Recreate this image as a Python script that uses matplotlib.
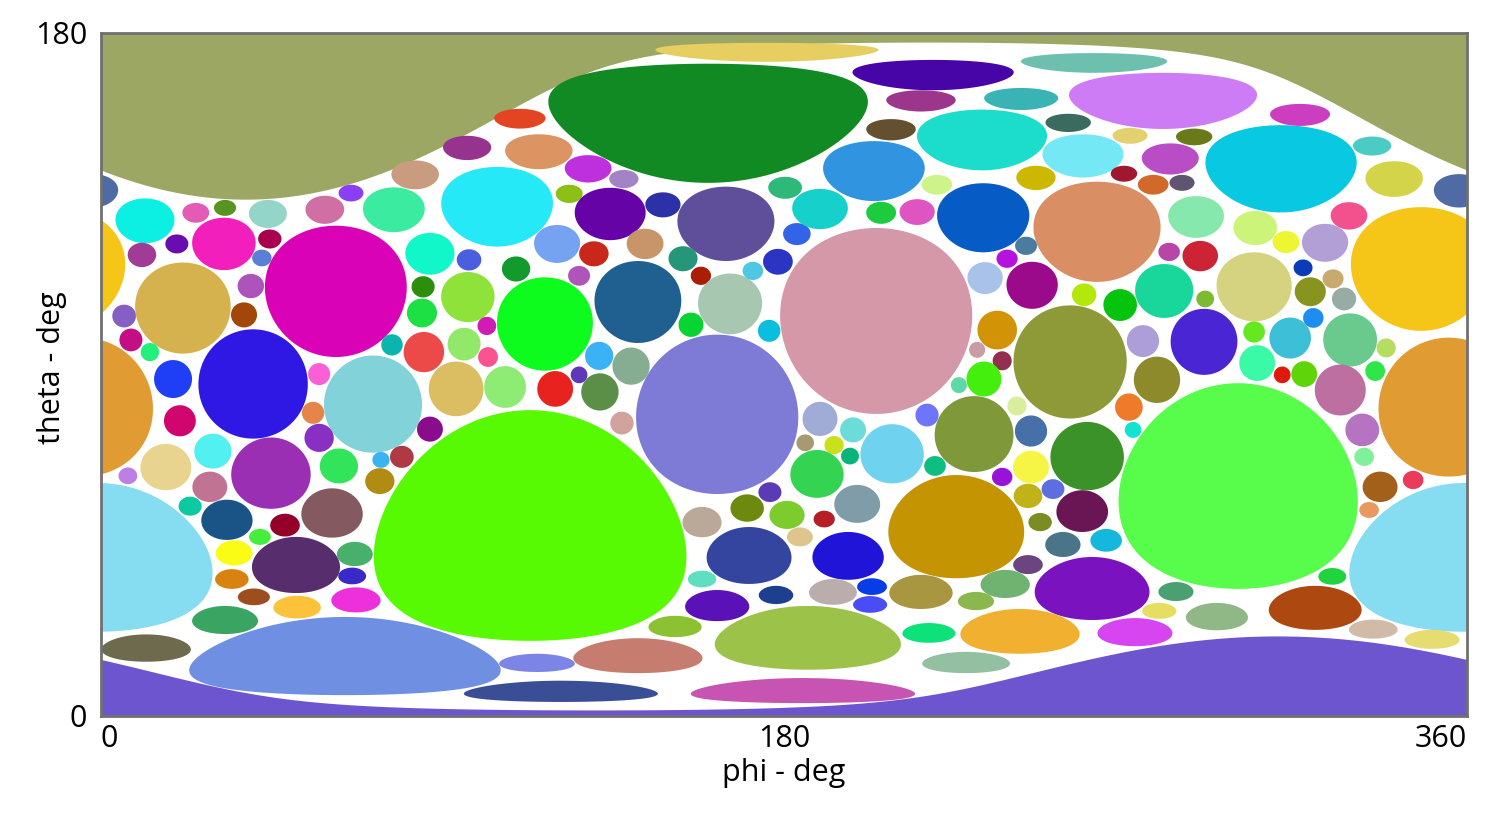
import matplotlib
matplotlib.use("Agg")

import matplotlib.pyplot as plt
import numpy as np

# spherical caps, phi/theta of centre and angular radius, all in degrees
phi_c = [
    357.9, 11.6, 25.0, 32.7, 44.0, 59.0, 65.9, 82.8, 77.2, 347.9,
    10.8, 20.0, 32.4, 44.5, 42.4, 61.9, 86.7, 104.4, 175.5, 160.0,
    110.4, 96.5, 115.4, 128.4, 137.8, 123.4, 134.2, 148.1, 164.7, 180.3,
    120.2, 129.9, 143.4, 153.4, 183.4, 178.4, 109.4, 97.0, 219.3, 261.7,
    216.1, 242.5, 279.9, 208.2, 232.2, 254.9, 271.2, 203.7, 258.8, 246.4,
    269.6, 220.3, 189.5, 205.6, 215.1, 232.5, 262.5, 243.8, 238.8, 204.3,
    316.0, 288.1, 281.8, 311.0, 335.0, 340.8, 277.3, 284.9, 288.6, 328.9,
    304.2, 312.3, 322.6, 281.5, 289.7, 303.9, 316.8, 21.6, 6.1, 7.9,
    12.9, 39.5, 37.7, 355.2, 19.0, 40.1, 20.8, 57.5, 71.7, 55.9,
    57.5, 29.5, 17.1, 44.8, 7.1, 28.7, 62.7, 73.8, 79.3, 73.5,
    86.7, 85.1, 76.7, 84.6, 84.9, 93.6, 96.7, 117.0, 101.7, 95.7,
    102.0, 106.5, 119.7, 126.0, 131.3, 139.7, 131.5, 141.5, 126.0, 158.1,
    155.5, 165.8, 171.8, 176.1, 137.3, 162.4, 113.1, 176.3, 233.0, 245.4,
    259.1, 268.6, 236.2, 230.9, 237.5, 255.4, 232.7, 226.1, 217.7, 241.4,
    230.1, 245.1, 259.9, 270.9, 272.0, 189.5, 198.2, 185.6, 193.2, 197.4,
    208.5, 188.7, 219.8, 245.1, 237.5, 299.7, 280.2, 291.0, 318.7, 324.7,
    327.6, 319.5, 274.6, 290.7, 303.9, 313.4, 329.2, 338.7, 304.7, 311.3,
    317.1, 278.3, 326.6, 335.8, 332.4, 332.9, 337.1, 345.8, 359.2, 23.5,
    33.2, 48.5, 60.9, 41.9, 35.1, 51.4, 66.9, 34.5, 66.2, 40.3,
    67.2, 51.7, 32.7, 11.9, 64.3, 158.4, 170.3, 180.8, 170.8, 158.4,
    162.4, 177.9, 151.3, 186.3, 141.5, 114.9, 121.2, 185.0, 196.9, 199.3,
    190.6, 184.2, 225.4, 244.3, 250.9, 258.6, 247.5, 253.5, 264.9, 244.3,
    261.2, 192.9, 203.2, 202.7, 216.1, 238.3, 230.6, 218.2, 242.2, 228.0,
    272.5, 283.3, 278.9, 294.1, 324.5, 320.0, 335.3, 350.8, 334.2,
]
theta_c = [
    138.4, 130.5, 132.6, 133.9, 132.3, 133.4, 137.8, 142.6, 133.4, 117.8,
    121.5, 124.4, 124.4, 125.7, 120.7, 111.9, 121.8, 134.2, 174.9, 156.2,
    157.4, 149.7, 148.7, 144.2, 141.5, 137.6, 132.3, 134.7, 129.7, 139.2,
    124.4, 121.8, 124.4, 120.5, 127.0, 119.7, 117.8, 120.2, 168.9, 172.1,
    162.1, 162.6, 162.1, 154.5, 151.8, 156.3, 152.9, 143.6, 147.6, 141.8,
    142.9, 140.0, 133.6, 132.6, 132.8, 131.3, 127.6, 123.9, 120.5, 104.1,
    158.4, 152.6, 146.8, 144.2, 150.2, 141.5, 140.0, 140.5, 131.5, 131.8,
    128.6, 124.9, 124.7, 122.3, 121.2, 113.1, 118.1, 107.5, 105.4, 99.1,
    95.9, 113.3, 105.7, 81.4, 88.8, 87.5, 77.8, 90.1, 82.2, 79.9,
    73.3, 69.8, 65.6, 64.0, 63.3, 60.4, 65.9, 67.5, 68.3, 61.9,
    75.6, 95.9, 97.8, 106.2, 113.1, 86.2, 110.4, 103.3, 102.8, 98.0,
    94.6, 86.7, 86.2, 89.9, 94.9, 92.2, 85.4, 109.1, 116.0, 116.0,
    103.1, 108.6, 117.3, 101.5, 77.2, 79.5, 50.2, 59.0, 115.4, 113.5,
    111.0, 108.3, 101.7, 96.5, 93.6, 93.3, 88.8, 87.2, 79.3, 81.7,
    74.3, 75.1, 68.5, 81.4, 75.4, 78.3, 75.4, 72.0, 71.4, 68.5,
    69.1, 63.8, 65.9, 65.6, 63.0, 60.6, 112.0, 109.9, 111.8, 115.2,
    109.9, 104.9, 98.8, 98.6, 101.2, 99.6, 99.1, 97.0, 93.0, 89.9,
    90.1, 88.6, 85.9, 90.9, 75.4, 68.3, 60.4, 62.2, 41.8, 55.3,
    51.7, 50.3, 53.5, 47.2, 43.0, 39.8, 42.7, 36.1, 36.9, 31.4,
    30.6, 28.7, 25.3, 17.9, 15.8, 51.1, 54.8, 53.0, 42.3, 36.1,
    29.1, 31.9, 23.6, 20.6, 15.9, 14.0, 6.5, 6.7, 42.2, 55.9,
    51.9, 47.2, 49.9, 58.0, 59.8, 54.0, 51.1, 45.2, 46.3, 39.9,
    33.6, 32.7, 34.1, 29.4, 32.7, 34.8, 30.3, 21.9, 22.3, 14.1,
    22.1, 32.8, 27.7, 26.2, 36.8, 28.5, 22.9, 20.2, 54.3,
]
radius_c = [
    4.4, 5.9, 2.6, 2.1, 3.7, 3.7, 2.2, 3.8, 5.9, 16.3,
    3.2, 2.5, 6.9, 2.5, 2.2, 17.3, 5.5, 10.5, 2.5, 15.7,
    2.6, 3.2, 4.6, 3.6, 2.4, 2.4, 6.9, 3.3, 9.8, 2.9,
    5.0, 3.3, 4.0, 3.3, 2.9, 3.4, 3.3, 2.8, 4.0, 2.6,
    2.8, 2.9, 7.4, 2.8, 8.0, 2.4, 2.1, 7.9, 5.7, 3.2,
    2.1, 2.6, 5.3, 2.9, 3.4, 9.1, 13.2, 2.4, 2.4, 24.5,
    2.9, 2.2, 4.1, 11.5, 2.5, 4.7, 2.6, 2.1, 5.5, 3.6,
    4.5, 2.9, 5.0, 2.4, 4.0, 9.1, 2.2, 12.0, 3.0, 3.0,
    2.4, 3.2, 3.3, 18.3, 5.0, 14.4, 4.1, 2.9, 12.8, 2.9,
    3.7, 4.6, 6.1, 9.4, 2.2, 4.0, 4.6, 2.1, 2.9, 3.4,
    3.3, 5.3, 2.8, 3.8, 2.8, 7.2, 6.6, 12.3, 2.4, 4.3,
    2.6, 5.5, 4.7, 2.2, 3.7, 4.9, 4.9, 10.8, 2.6, 2.4,
    3.2, 8.0, 2.4, 2.9, 3.0, 21.0, 30.4, 2.6, 4.2, 6.2,
    3.0, 4.2, 5.1, 2.1, 2.5, 14.9, 4.6, 2.1, 3.0, 2.5,
    10.0, 4.1, 9.0, 3.6, 2.1, 4.5, 3.3, 2.2, 2.4, 2.2,
    7.8, 6.3, 2.6, 4.3, 2.4, 27.1, 7.1, 2.2, 3.8, 2.5,
    3.0, 2.6, 4.2, 8.7, 2.8, 5.4, 7.0, 2.5, 4.7, 2.2,
    3.4, 6.1, 6.7, 2.6, 4.3, 2.4, 4.0, 2.4, 19.6, 2.5,
    5.3, 3.0, 6.5, 2.1, 3.3, 7.4, 3.2, 2.6, 2.2, 2.2,
    3.3, 3.0, 3.7, 3.6, 10.3, 4.0, 3.6, 3.7, 7.5, 2.2,
    4.1, 2.4, 2.8, 8.4, 4.6, 2.4, 2.8, 3.3, 6.3, 5.0,
    2.2, 2.5, 13.6, 3.2, 2.6, 5.5, 2.4, 3.3, 3.0, 2.5,
    8.3, 3.4, 2.2, 2.2, 4.5, 3.7, 2.4, 2.6, 5.9, 2.8,
    3.7, 2.5, 2.1, 3.6, 2.2, 5.8, 2.5, 2.5, 2.1,
]
colors_c = [
    "#4f6ba5", "#0cefe3", "#e35bb5", "#5a9420", "#94d5c9", "#cf6fa3", "#8a3ff5", "#c99c80", "#3beba0", "#f5c518",
    "#a03c96", "#6a0db0", "#f21fbd", "#a8004f", "#5b7fd6", "#d902b6", "#12f7c9", "#26e9f7", "#e6cf60", "#128a24",
    "#e34522", "#96338f", "#db9462", "#be2fdd", "#a283c6", "#8cc016", "#6503a6", "#2c31a8", "#5f4f9a", "#2eb87a",
    "#76a2f2", "#c9271a", "#c8956a", "#25967a", "#3264e8", "#2a35c4", "#139a2d", "#4a5fe0", "#4705a8", "#6ec0ae",
    "#9c358c", "#3ab3b5", "#cd7cf5", "#645030", "#1cdccb", "#3a6b5e", "#e3d070", "#3094e0", "#74e8f5", "#cdb800",
    "#a01830", "#cdf48a", "#16d0cc", "#1dcc3e", "#de55c2", "#065bc4", "#d98e63", "#4a7ba0", "#b512e0", "#d498a9",
    "#cc3dc0", "#6a7a18", "#b84dc6", "#08c8e2", "#4bcbc3", "#d4d44a", "#d2692a", "#5f5471", "#86e8ad", "#f3508e",
    "#ccf478", "#eef533", "#b29fd6", "#b845a8", "#cc2335", "#d5d380", "#0b3bb8", "#d6b24e", "#855fc4", "#c40e84",
    "#22f07b", "#af53bc", "#a2460a", "#e09c33", "#1f3ff7", "#2f18e3", "#d0066e", "#fb5fd6", "#82d3d9", "#e5854a",
    "#8a2fc4", "#52f0f0", "#e8d48e", "#9a2fb3", "#bc7fe6", "#c17393", "#32e45a", "#3ab4f0", "#b03a44", "#b08c12",
    "#8b0c8a", "#ec4a48", "#0ab5b0", "#1ce044", "#2c8e0c", "#dcbe62", "#8ee23a", "#0efb1e", "#d01cb4", "#92e868",
    "#fb5291", "#8eeb74", "#e8231f", "#5d38b8", "#3bb2f5", "#86ad92", "#5b8e46", "#1f6090", "#b055b8", "#a81e06",
    "#07d432", "#a8c7b1", "#4ec8e2", "#0abee0", "#d0a39c", "#7e7bd6", "#58fa03", "#5a3ab5", "#a8c2ea", "#9a0a8a",
    "#b3e80a", "#06c40e", "#d29306", "#c99da5", "#93304f", "#8e9a38", "#44ef0e", "#5ed8a4", "#6e75fa", "#d8ee9a",
    "#7e983a", "#4870a8", "#3a9228", "#ee7a2a", "#10e3cf", "#a0acd6", "#6cdcd8", "#a79a72", "#c9e01c", "#0bb57a",
    "#6fd3ef", "#34d452", "#0dbd82", "#f6f545", "#9a12d8", "#58fc4a", "#19d69a", "#7cba32", "#889320", "#c9aa6e",
    "#97aca4", "#1d8ef0", "#ad9dd8", "#4a25d4", "#66e820", "#3ebfd8", "#6ac98d", "#b5dd60", "#3afaa8", "#e01a0a",
    "#5fd40a", "#8c8a2a", "#bd6fa2", "#2ee54a", "#b573c2", "#80f19a", "#a3601a", "#ec3a5a", "#86dcf0", "#0bc9a0",
    "#1a5487", "#95002a", "#845a60", "#45ee3a", "#fbfc16", "#572d6e", "#48b06a", "#d88210", "#3a28c8", "#9c4e1e",
    "#ee2fdc", "#fbc23a", "#3aa562", "#6e6a4e", "#6f8fe2", "#baa899", "#6e8a0e", "#7ccc2e", "#33459e", "#5ee0c0",
    "#5a12b8", "#1e3e8e", "#8cc232", "#9cc24a", "#c67c6e", "#7c84e6", "#3a4e96", "#c754b2", "#2014d8", "#7f9ca8",
    "#b51e24", "#e0c48e", "#c49402", "#c2b21a", "#5c6ee0", "#6a1554", "#7a8c22", "#4a7588", "#14b8dc", "#6c4480",
    "#7a12c0", "#b9aeac", "#083ce6", "#4a4cf5", "#a89640", "#70b270", "#8ab84e", "#0de27a", "#f2b030", "#92c0a0",
    "#d645f0", "#4aa070", "#e6de60", "#90b886", "#1fd43e", "#ac4810", "#d2baa8", "#e6dc70", "#e89a5e",
]

# the two caps that cover a pole
pole_phi = [38.0, 310.0]
pole_theta = [159.3, 9.75]
pole_radius = [23.1, 11.35]
pole_colors = ["#9ca764", "#6e55d0"]

assert len(phi_c) == len(theta_c) == len(radius_c) == len(colors_c)


def cap_outline(phi0, th0, r, n=240):
    p0, t0, rr = np.radians([phi0, th0, r])
    c = np.array([np.sin(t0) * np.cos(p0), np.sin(t0) * np.sin(p0), np.cos(t0)])
    e1 = np.array([np.cos(t0) * np.cos(p0), np.cos(t0) * np.sin(p0), -np.sin(t0)])
    e2 = np.array([-np.sin(p0), np.cos(p0), 0.0])
    t = np.linspace(0, 2 * np.pi, n)
    pts = np.cos(rr) * c[:, None] + np.sin(rr) * (np.cos(t) * e1[:, None] + np.sin(t) * e2[:, None])
    th = np.degrees(np.arccos(np.clip(pts[2], -1, 1)))
    ph = np.degrees(np.arctan2(pts[1], pts[0]))
    ph = phi0 + (ph - phi0 + 180) % 360 - 180
    return ph, th


phi_grid = np.linspace(0, 360, 1441)


def pole_edge(phi0, c, r):
    # distance from the pole of the cap edge along each meridian
    d = np.radians(phi_grid - phi0)
    cc, rr = np.radians(c), np.radians(r)
    A = np.cos(cc)
    B = np.sin(cc) * np.cos(d)
    return np.degrees(np.arctan2(B, A) + np.arccos(np.cos(rr) / np.hypot(A, B)))


fig = plt.figure(figsize=(15, 8.18), dpi=100)
ax = fig.add_axes([0.0673, 0.1247, 0.9107, 0.835])

for ph0, th0, r, col in zip(pole_phi, pole_theta, pole_radius, pole_colors):
    if th0 < 90:
        ax.fill_between(phi_grid, 0, pole_edge(ph0, th0, r), color=col, lw=0)
    else:
        ax.fill_between(phi_grid, 180 - pole_edge(ph0, 180 - th0, r), 180, color=col, lw=0)

for ph0, th0, r, col in zip(phi_c, theta_c, radius_c, colors_c):
    ph, th = cap_outline(ph0, th0, r)
    for shift in (-360, 0, 360):
        if ph.max() + shift > 0 and ph.min() + shift < 360:
            ax.fill(ph + shift, th, color=col, lw=0)

ax.set_xlim(0, 360)
ax.set_ylim(0, 180)
ax.set_xticks([0, 180, 360])
ax.set_yticks([0, 180])
ax.tick_params(length=0, labelsize=22, pad=6)
ax.tick_params(axis="y", pad=10)
for lab in ax.get_xticklabels() + ax.get_yticklabels():
    lab.set_fontfamily("Open Sans")
xlabs = ax.get_xticklabels()
xlabs[0].set_ha("left")
xlabs[0].set_x(-1)
xlabs[-1].set_ha("right")
for sp in ax.spines.values():
    sp.set_color("#707070")
    sp.set_linewidth(2)
ax.set_xlabel("phi - deg", fontsize=22, family="Open Sans")
ax.xaxis.set_label_coords(0.5, -0.062)
ax.set_ylabel("theta - deg", fontsize=22, family="Open Sans")
ax.yaxis.set_label_coords(-0.036, 0.51)
ax.yaxis.label.set_va("center")

fig.savefig("out.png", dpi=100)
